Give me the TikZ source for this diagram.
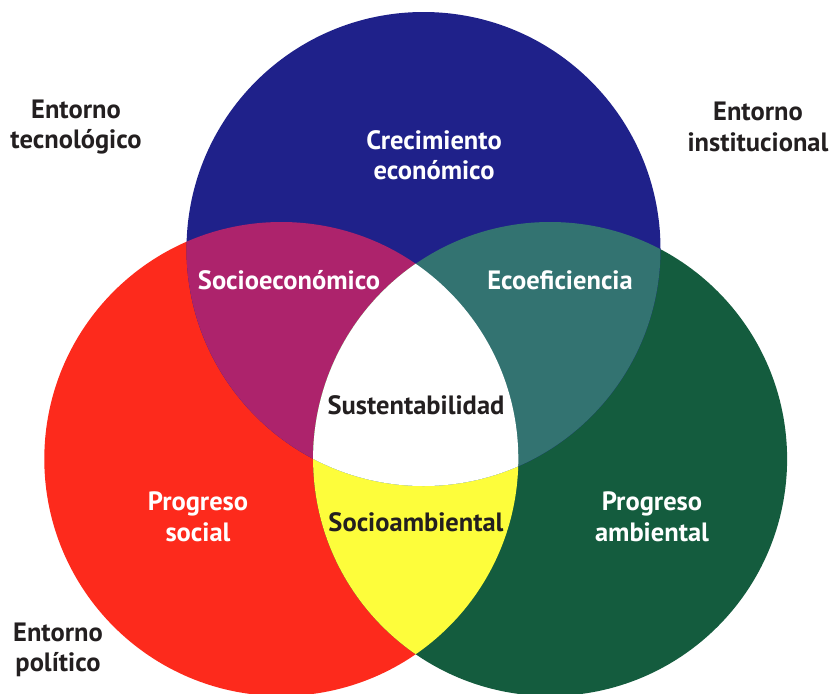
\documentclass[tikz,border=0pt]{standalone}
\usepackage{fontspec}
\setmainfont{PT Sans}
\definecolor{ecoblue}{HTML}{1F218A}
\definecolor{socred}{HTML}{FD2A1C}
\definecolor{envgreen}{HTML}{145C3E}
\definecolor{socmag}{HTML}{AD236C}
\definecolor{ecoteal}{HTML}{337371}
\definecolor{envyellow}{HTML}{FDFD3B}
\definecolor{ink}{HTML}{231F20}

\begin{document}
\begin{tikzpicture}[x=1pt, y=-1pt,
      lbl/.style={font=\bfseries\fontsize{26.5}{30.5}\selectfont, align=center, text=white},
      dark/.style={lbl, text=ink}]
    \clip (0,0) rectangle (831,694);
    \def\rad{237pt}
    \coordinate (ce) at (423.5,249);
    \coordinate (cs) at (281.3,459);
    \coordinate (ca) at (550.1,459);
    % three circles
    \fill[socred] (cs) circle (\rad);
    \fill[envgreen] (ca) circle (\rad);
    \fill[ecoblue] (ce) circle (\rad);
    % pairwise overlaps
    \begin{scope}
      \clip (cs) circle (\rad);
      \fill[socmag] (ce) circle (\rad);
      \fill[envyellow] (ca) circle (\rad);
    \end{scope}
    \begin{scope}
      \clip (ca) circle (\rad);
      \fill[ecoteal] (ce) circle (\rad);
    \end{scope}
    % centre
    \begin{scope}
      \clip (cs) circle (\rad);
      \clip (ca) circle (\rad);
      \fill[white] (ce) circle (\rad);
    \end{scope}
    \node[lbl] (eco) at (434,155) {Crecimiento\\económico};
    \node[lbl] (soc) at (198,517) {Progreso\\social};
    \node[lbl] (amb) at (652,517) {Progreso\\ambiental};
    \node[lbl] (socec) at (289,280) {Socioeconómico};
    \node[lbl] (ecoef) at (560,280) {Ecoeficiencia};
    \node[dark] (sust) at (416,405) {Sustentabilidad};
    \node[dark] (socam) at (416,522) {Socioambiental};
    \node[dark] (tec) at (76,127) {Entorno\\tecnológico};
    \node[dark] (inst) at (758,127) {Entorno\\institucional};
    \node[dark] (pol) at (58,650) {Entorno\\político};
  \end{tikzpicture}
\end{document}
